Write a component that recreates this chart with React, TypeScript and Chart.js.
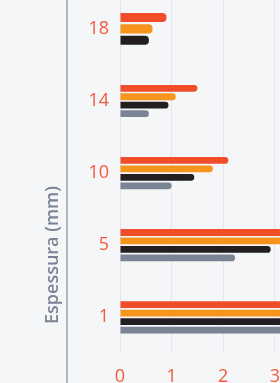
import React, { useEffect, useRef } from 'react';
import { Chart, registerables } from 'chart.js';

Chart.register(...registerables);

// Categories (thickness in mm), top to bottom
const categories = ['18', '14', '10', '5', '1'];

// Series values
const seriesNames = ['Série A', 'Série B', 'Série C', 'Série D'];
const redValues = [0.9, 1.5, 2.1, 3.6, 4.4];
const orangeValues = [0.63, 1.08, 1.8, 3.4, 4.2];
const blackValues = [0.56, 0.94, 1.44, 2.92, 3.9];
const grayValues: (number | null)[] = [null, 0.56, 1.0, 2.23, 3.5];

const xMin = 0;
const xMax = 5;
const xStep = 1;

const axisTitle = 'Espessura (mm)';

const colors = ['#f04e2b', '#f7941e', '#231f20', '#7b8494'];
const tickColor = '#f15a3a';

export default function App() {
  const ref = useRef<HTMLCanvasElement>(null);

  useEffect(() => {
    if (!ref.current) return;
    Chart.defaults.font.family = "'Open Sans', sans-serif";
    const values = [redValues, orangeValues, blackValues, grayValues];
    const chart = new Chart(ref.current, {
      type: 'bar',
      data: {
        labels: categories,
        datasets: values.map((v, i) => ({
          label: seriesNames[i],
          data: v,
          backgroundColor: colors[i],
          borderRadius: 4,
          borderSkipped: 'start',
        })),
      },
      options: {
        indexAxis: 'y',
        responsive: false,
        animation: false,
        layout: { padding: { top: 12, right: 20, bottom: 0, left: 0 } },
        datasets: {
          bar: { categoryPercentage: 0.47, barPercentage: 0.8, skipNull: true },
        },
        plugins: {
          legend: { display: false },
          tooltip: { enabled: false },
        },
        scales: {
          x: {
            min: xMin,
            max: xMax,
            ticks: { stepSize: xStep, color: tickColor, font: { size: 18 }, padding: 13 },
            grid: { color: '#e3e5e9', drawTicks: false, lineWidth: 1 },
            border: { display: false },
          },
          y: {
            grid: { display: false, drawTicks: false },
            border: { display: false },
            ticks: { color: tickColor, font: { size: 18 }, padding: 11 },
            afterFit: (s: any) => {
              s.width = 120;
            },
          },
        },
      } as any,
    });
    return () => chart.destroy();
  }, []);

  return (
    <div
      style={{
        position: 'fixed',
        left: 0,
        top: 0,
        width: 280,
        height: 383,
        overflow: 'hidden',
        background: '#f5f6f8',
      }}
    >
      <canvas
        ref={ref}
        width={398}
        height={430}
        style={{ position: 'absolute', left: 0, top: -29, display: 'block' }}
      />
      <div
        style={{
          position: 'absolute',
          left: 66,
          top: 0,
          width: 2,
          height: 383,
          background: '#b3b7be',
        }}
      />
      <div
        style={{
          position: 'absolute',
          left: 51,
          top: 255,
          transform: 'translate(-50%, -50%) rotate(-90deg)',
          whiteSpace: 'nowrap',
          font: "600 18px 'Open Sans', sans-serif",
          color: '#7b8494',
        }}
      >
        {axisTitle}
      </div>
    </div>
  );
}
